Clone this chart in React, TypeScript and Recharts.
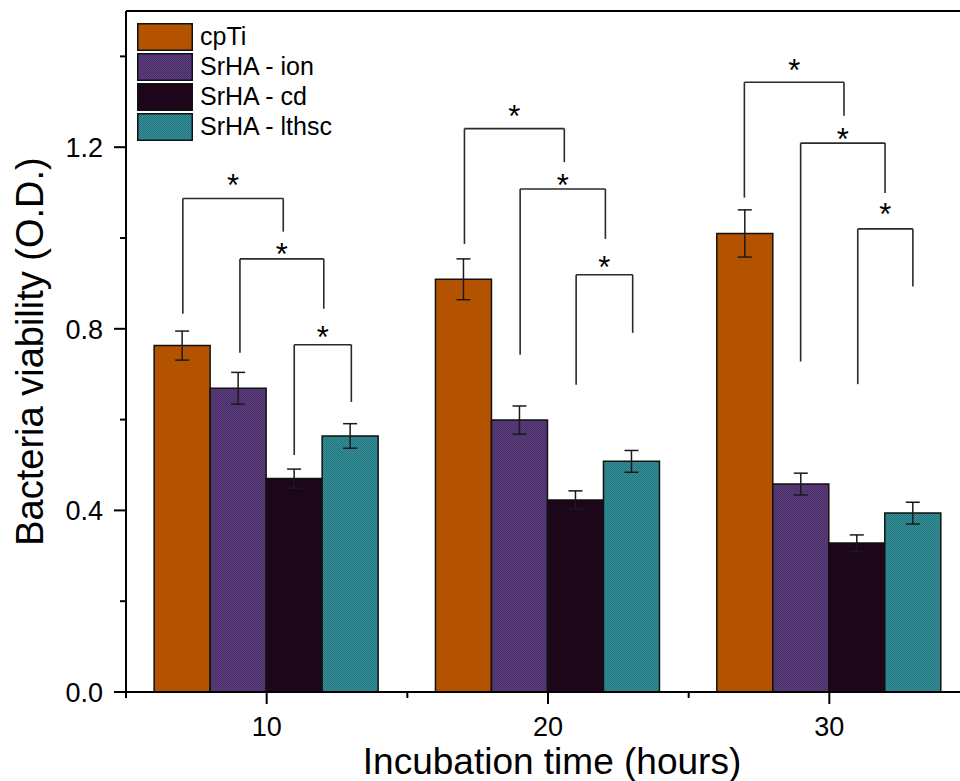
import React from 'react';
import { BarChart, Bar, XAxis, YAxis, ErrorBar, ReferenceLine, ReferenceDot } from 'recharts';

// incubation times (hours)
const times = ['10', '20', '30'];

// bacteria viability (O.D.) and error
const cpTi = [0.763, 0.909, 1.01];
const cpTiErr = [0.032, 0.045, 0.052];
const srhaIon = [0.669, 0.599, 0.458];
const srhaIonErr = [0.035, 0.031, 0.024];
const srhaCd = [0.47, 0.423, 0.328];
const srhaCdErr = [0.021, 0.02, 0.018];
const srhaLthsc = [0.564, 0.508, 0.394];
const srhaLthscErr = [0.027, 0.024, 0.024];

const yTicks = [0, 0.2, 0.4, 0.6, 0.8, 1.0, 1.2, 1.4];
const yMajor = [0, 0.4, 0.8, 1.2];
// position axis: one unit per time group, group centres at .5
const posTicks = [0, 0.5, 1, 1.5, 2, 2.5, 3];

// significance brackets, x in group units, y in O.D.
const bracketX1 = [0.202, 0.405, 0.598, 1.203, 1.401, 1.6, 2.198, 2.398, 2.601];
const bracketX2 = [0.559, 0.703, 0.801, 1.558, 1.704, 1.801, 2.552, 2.698, 2.797];
const bracketTop = [1.087, 0.954, 0.765, 1.241, 1.108, 0.919, 1.343, 1.209, 1.02];
const bracketLeftEnd = [0.833, 0.747, 0.522, 0.987, 0.743, 0.677, 1.089, 0.728, 0.678];
const bracketRightEnd = [1.014, 0.844, 0.639, 1.167, 0.998, 0.791, 1.269, 1.099, 0.893];
const starY = [1.133, 0.981, 0.798, 1.285, 1.133, 0.952, 1.386, 1.234, 1.069];

const series = [
  { key: 'cpTi', name: 'cpTi', fill: '#b35300' },
  { key: 'ion', name: 'SrHA - ion', fill: 'url(#pIon)' },
  { key: 'cd', name: 'SrHA - cd', fill: '#1d0619' },
  { key: 'lthsc', name: 'SrHA - lthsc', fill: 'url(#pLthsc)' },
];

const data = times.map((t, i) => ({
  time: t,
  pos: i + 0.5,
  cpTi: cpTi[i],
  cpTiErr: cpTiErr[i],
  ion: srhaIon[i],
  ionErr: srhaIonErr[i],
  cd: srhaCd[i],
  cdErr: srhaCdErr[i],
  lthsc: srhaLthsc[i],
  lthscErr: srhaLthscErr[i],
}));

const FONT = '"Liberation Sans", Arial, sans-serif';

const YTick = (props: any) => {
  const { x, y, payload } = props;
  const axisX = x + 12;
  const major = yMajor.some((v) => Math.abs(v - payload.value) < 1e-6);
  return (
    <g>
      <line x1={axisX} x2={axisX - (major ? 12 : 6)} y1={y} y2={y} stroke="#000" strokeWidth={2} />
      {major && (
        <text x={axisX - 23} y={y + 10} textAnchor="end" fontSize={27} fill="#000">
          {payload.value.toFixed(1)}
        </text>
      )}
    </g>
  );
};

const XTick = (props: any) => {
  const { x, y, payload } = props;
  const axisY = y - 12;
  const major = Math.abs((payload.value % 1) - 0.5) < 1e-6;
  return (
    <g>
      <line x1={x} x2={x} y1={axisY} y2={axisY + (major ? 12 : 6)} stroke="#000" strokeWidth={2} />
      {major && (
        <text x={x} y={axisY + 44} textAnchor="middle" fontSize={27} fill="#000">
          {times[Math.floor(payload.value)]}
        </text>
      )}
    </g>
  );
};

const YLabel = (props: any) => {
  const { x, y, height } = props.viewBox;
  const cx = x + 43;
  const cy = y + height / 2;
  return (
    <text x={cx} y={cy} transform={`rotate(-90 ${cx} ${cy})`} textAnchor="middle" fontSize={38} fill="#000">
      Bacteria viability (O.D.)
    </text>
  );
};

const XLabel = (props: any) => {
  const { x, y, width } = props.viewBox;
  return (
    <text x={x + width / 2 + 4} y={y + 82} textAnchor="middle" fontSize={37} fill="#000">
      Incubation time (hours)
    </text>
  );
};

const Star = (props: any) => (
  <text x={props.cx} y={props.cy + 18} textAnchor="middle" fontSize={31} fill="#000">
    *
  </text>
);

export default function App() {
  const bracketLines = bracketX1.flatMap((x1, i) => {
    const x2 = bracketX2[i];
    const top = bracketTop[i];
    const common = { xAxisId: 'pos', stroke: '#2a2a2a', strokeWidth: 1.6, ifOverflow: 'visible' as const };
    return [
      <ReferenceLine key={`l${i}`} {...common} segment={[{ x: x1, y: bracketLeftEnd[i] }, { x: x1, y: top }]} />,
      <ReferenceLine key={`t${i}`} {...common} segment={[{ x: x1, y: top }, { x: x2, y: top }]} />,
      <ReferenceLine key={`r${i}`} {...common} segment={[{ x: x2, y: top }, { x: x2, y: bracketRightEnd[i] }]} />,
      <ReferenceDot
        key={`s${i}`}
        xAxisId="pos"
        x={(x1 + x2) / 2}
        y={starY[i]}
        r={2}
        ifOverflow="visible"
        shape={<Star />}
      />,
    ];
  });

  return (
    <div
      style={{
        position: 'absolute',
        left: 0,
        top: 0,
        width: 960,
        height: 781,
        overflow: 'hidden',
        background: '#fff',
        fontFamily: FONT,
      }}
    >
      <svg width={0} height={0} style={{ position: 'absolute' }}>
        <defs>
          <pattern id="pIon" width={2} height={2} patternUnits="userSpaceOnUse">
            <rect width={2} height={2} fill="#5b3d7d" />
            <rect width={1} height={1} fill="#4b3068" />
            <rect x={1} y={1} width={1} height={1} fill="#4b3068" />
          </pattern>
          <pattern id="pLthsc" width={2} height={2} patternUnits="userSpaceOnUse">
            <rect width={2} height={2} fill="#348f99" />
            <rect width={1} height={1} fill="#25757f" />
            <rect x={1} y={1} width={1} height={1} fill="#25757f" />
          </pattern>
        </defs>
      </svg>
      <BarChart
        width={1000}
        height={781}
        data={data}
        margin={{ top: 11, right: 30, bottom: 0, left: 0 }}
        barCategoryGap="10%"
        barGap={0}
      >
        <XAxis dataKey="time" height={0} tick={false} tickLine={false} axisLine={false} />
        <XAxis
          xAxisId="pos"
          dataKey="pos"
          type="number"
          domain={[0, 3]}
          ticks={posTicks}
          interval={0}
          allowDataOverflow
          height={89}
          tickSize={12}
          tickMargin={0}
          tickLine={false}
          axisLine={{ stroke: '#000', strokeWidth: 2 }}
          tick={<XTick />}
          label={<XLabel />}
        />
        <YAxis
          domain={[0, 1.5]}
          ticks={yTicks}
          interval={0}
          allowDataOverflow
          width={126}
          tickSize={12}
          tickMargin={0}
          tickLine={false}
          axisLine={{ stroke: '#000', strokeWidth: 2 }}
          tick={<YTick />}
          label={<YLabel />}
        />
        <ReferenceLine y={1.5} stroke="#000" strokeWidth={2} ifOverflow="visible" />
        {series.map((s) => (
          <Bar
            key={s.key}
            dataKey={s.key}
            name={s.name}
            fill={s.fill}
            stroke="#111"
            strokeWidth={1.5}
            isAnimationActive={false}
          >
            <ErrorBar dataKey={`${s.key}Err`} direction="y" width={7} stroke="#1a1a1a" strokeWidth={1.5} isAnimationActive={false} />
          </Bar>
        ))}
        {bracketLines}
      </BarChart>
      <div style={{ position: 'absolute', left: 137, top: 23, display: 'flex', flexDirection: 'column', gap: 3 }}>
        {series.map((s) => (
          <div key={s.key} style={{ display: 'flex', alignItems: 'center', height: 27 }}>
            <svg width={56} height={28} style={{ display: 'block' }}>
              <rect x={0.75} y={0.75} width={54.5} height={26.5} fill={s.fill} stroke="#111" strokeWidth={1.5} />
            </svg>
            <span style={{ marginLeft: 7, fontSize: 25, lineHeight: '27px', color: '#000' }}>{s.name}</span>
          </div>
        ))}
      </div>
    </div>
  );
}
